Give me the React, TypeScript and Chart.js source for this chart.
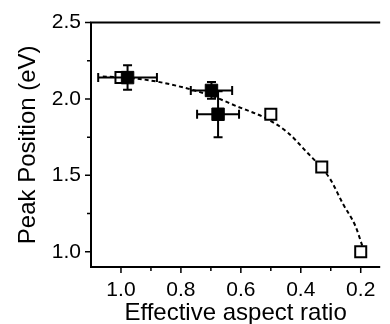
import React, { useEffect, useRef } from "react";
import { Chart, registerables } from "chart.js";

Chart.register(...registerables);

// ---- data ----
const openX = [1.0, 0.5, 0.33, 0.2];
const openY = [2.14, 1.9, 1.555, 1.0];

const filledX = [0.978, 0.698, 0.676];
const filledY = [2.14, 2.056, 1.9];
const filledXErr = [0.098, 0.069, 0.07];
const filledYErr = [0.08, 0.055, 0.15];

// dashed guide curve (increasing x)
const fitX = [0.195, 0.217, 0.26, 0.303, 0.384, 0.444, 0.513, 0.617, 0.69, 0.768, 0.875, 0.97, 1.07];
const fitY = [1.04, 1.165, 1.316, 1.479, 1.66, 1.781, 1.87, 1.955, 2.015, 2.063, 2.112, 2.138, 2.148];

const xMajorTicks = [1.0, 0.8, 0.6, 0.4, 0.2];
const xMinorTicks = [0.9, 0.7, 0.5, 0.3];
const yMajorTicks = [1.0, 1.5, 2.0, 2.5];
const yMinorTicks = [1.25, 1.75, 2.25];

const X_MIN = 0.135;
const X_MAX = 1.1;
const Y_MIN = 0.9;
const Y_MAX = 2.5;

const FONT = "'Liberation Sans', Arial, Helvetica, sans-serif";

const errorBarPlugin = {
  id: "errorBars",
  afterDatasetDraw(chart: any, args: any) {
    if (args.index !== 1) return;
    const { ctx } = chart;
    const xs = chart.scales.x;
    const ys = chart.scales.y;
    ctx.save();
    ctx.strokeStyle = "#000";
    ctx.lineWidth = 2;
    const cap = 4.5;
    for (let i = 0; i < filledX.length; i++) {
      const x0 = xs.getPixelForValue(filledX[i] - filledXErr[i]);
      const x1 = xs.getPixelForValue(filledX[i] + filledXErr[i]);
      const yc = ys.getPixelForValue(filledY[i]);
      const xc = xs.getPixelForValue(filledX[i]);
      const y0 = ys.getPixelForValue(filledY[i] - filledYErr[i]);
      const y1 = ys.getPixelForValue(filledY[i] + filledYErr[i]);
      ctx.beginPath();
      ctx.moveTo(x0, yc);
      ctx.lineTo(x1, yc);
      ctx.moveTo(x0, yc - cap);
      ctx.lineTo(x0, yc + cap);
      ctx.moveTo(x1, yc - cap);
      ctx.lineTo(x1, yc + cap);
      ctx.moveTo(xc, y0);
      ctx.lineTo(xc, y1);
      ctx.moveTo(xc - cap, y0);
      ctx.lineTo(xc + cap, y0);
      ctx.moveTo(xc - cap, y1);
      ctx.lineTo(xc + cap, y1);
      ctx.stroke();
    }
    ctx.restore();
  },
};

const framePlugin = {
  id: "frame",
  afterDraw(chart: any) {
    const { ctx, chartArea: ca } = chart;
    const xs = chart.scales.x;
    const ys = chart.scales.y;
    ctx.save();
    ctx.strokeStyle = "#000";
    ctx.lineWidth = 2;
    ctx.beginPath();
    ctx.moveTo(ca.left, ca.top);
    ctx.lineTo(ca.left, ca.bottom);
    ctx.moveTo(ca.left - 1, ca.bottom);
    ctx.lineTo(ca.right, ca.bottom);
    ctx.moveTo(ca.left - 1, ca.top);
    ctx.lineTo(ca.right, ca.top);
    ctx.stroke();
    ctx.lineWidth = 1.5;
    ctx.beginPath();
    xMajorTicks.forEach((v) => {
      const p = xs.getPixelForValue(v);
      ctx.moveTo(p, ca.bottom);
      ctx.lineTo(p, ca.bottom + 6);
    });
    xMinorTicks.forEach((v) => {
      const p = xs.getPixelForValue(v);
      ctx.moveTo(p, ca.bottom);
      ctx.lineTo(p, ca.bottom + 4);
    });
    yMajorTicks.forEach((v) => {
      const p = ys.getPixelForValue(v);
      ctx.moveTo(ca.left, p);
      ctx.lineTo(ca.left - 6, p);
    });
    yMinorTicks.forEach((v) => {
      const p = ys.getPixelForValue(v);
      ctx.moveTo(ca.left, p);
      ctx.lineTo(ca.left - 4, p);
    });
    ctx.stroke();
    ctx.restore();
  },
};

export default function App() {
  const canvasRef = useRef<HTMLCanvasElement | null>(null);

  useEffect(() => {
    document.body.style.margin = "0";
    const canvas = canvasRef.current;
    if (!canvas) return;

    const chart = new Chart(canvas, {
      type: "scatter",
      data: {
        datasets: [
          {
            type: "line",
            label: "fit",
            data: fitX.map((x, i) => ({ x, y: fitY[i] })),
            borderColor: "#000",
            borderWidth: 2,
            borderDash: [4, 3],
            pointRadius: 0,
            fill: false,
            cubicInterpolationMode: "monotone",
            order: 3,
          } as any,
          {
            label: "open",
            data: openX.map((x, i) => ({ x, y: openY[i] })),
            pointStyle: "rect",
            pointRadius: 7.8,
            pointBorderWidth: 2,
            pointBorderColor: "#000",
            pointBackgroundColor: "#fff",
            order: 2,
          },
          {
            label: "filled",
            data: filledX.map((x, i) => ({ x, y: filledY[i] })),
            pointStyle: "rect",
            pointRadius: 8.8,
            pointBorderWidth: 1,
            pointBorderColor: "#000",
            pointBackgroundColor: "#000",
            order: 1,
          },
        ],
      },
      options: {
        animation: false,
        responsive: false,
        devicePixelRatio: 1,
        layout: { padding: { top: 21, left: 0, right: 0, bottom: 0 } },
        plugins: {
          legend: { display: false },
          tooltip: { enabled: false },
        },
        scales: {
          x: {
            type: "linear",
            reverse: true,
            min: X_MIN,
            max: X_MAX,
            afterBuildTicks: (s: any) => {
              s.ticks = xMajorTicks.map((v) => ({ value: v }));
            },
            afterFit: (s: any) => {
              s.height = 57;
            },
            grid: { display: false, drawTicks: false },
            border: { display: false },
            ticks: {
              color: "#000",
              font: { family: FONT, size: 21 },
              padding: 11,
              maxRotation: 0,
              autoSkip: false,
              callback: (v: any) => Number(v).toFixed(1),
            },
            title: {
              display: true,
              text: "Effective aspect ratio",
              color: "#000",
              font: { family: FONT, size: 24, lineHeight: 1 },
              padding: { top: 0, bottom: -1 },
            },
          },
          y: {
            type: "linear",
            min: Y_MIN,
            max: Y_MAX,
            afterBuildTicks: (s: any) => {
              s.ticks = yMajorTicks.map((v) => ({ value: v }));
            },
            afterFit: (s: any) => {
              s.width = 91;
            },
            grid: { display: false, drawTicks: false },
            border: { display: false },
            ticks: {
              color: "#000",
              font: { family: FONT, size: 21 },
              padding: 10,
              autoSkip: false,
              callback: (v: any) => Number(v).toFixed(1),
            },
            title: {
              display: true,
              text: "Peak Position (eV)",
              color: "#000",
              font: { family: FONT, size: 24 },
              padding: { top: 14, bottom: 0 },
            },
          },
        },
      },
      plugins: [errorBarPlugin, framePlugin],
    });

    return () => chart.destroy();
  }, []);

  return (
    <div style={{ width: 390, height: 324 }}>
      <canvas ref={canvasRef} width={390} height={324} style={{ display: "block" }} />
    </div>
  );
}
